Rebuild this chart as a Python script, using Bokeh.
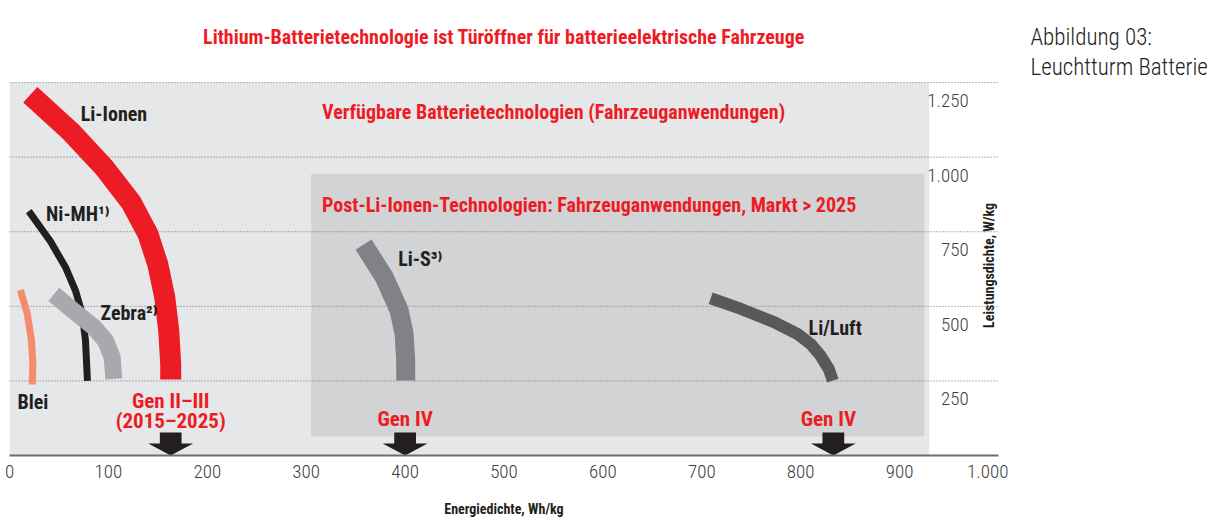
from bokeh.plotting import figure
from bokeh.layouts import row
from bokeh.models import Range1d, FixedTicker
from bokeh.core.properties import value
from bokeh.embed import file_html
from bokeh.resources import INLINE

COND = "'Roboto Condensed', 'Open Sans Condensed', sans-serif"
COND_LIGHT = "'Roboto Condensed Light', 'Roboto Condensed', sans-serif"

# ---- data ----
x_ticks = [0, 100, 200, 300, 400, 500, 600, 700, 800, 900, 1000]
x_tick_labels = ["0", "100", "200", "300", "400", "500", "600", "700", "800", "900", "1.000"]
y_ticks = [250, 500, 750, 1000, 1250]
y_tick_labels = ["250", "500", "750", "1.000", "1.250"]

li_ionen_x = [21, 62, 96, 123, 140, 150, 157, 161, 163, 163]
li_ionen_y = [1209, 1085, 964, 848, 742, 640, 530, 419, 306, 255]
nimh_x = [19.5, 41.5, 56.6, 66.7, 73.5, 76.8, 78.8]
nimh_y = [819, 717, 631, 553, 475, 386, 250]
zebra_x = [44.8, 68.4, 85.2, 97.1, 103.8, 105.5]
zebra_y = [540, 475, 430, 385, 329, 257]
blei_x = [11, 18, 22.2, 23.6, 23]
blei_y = [555, 475, 385, 307, 238]
lis_x = [358, 379, 394, 399, 400.6, 400.6]
lis_y = [707, 597, 486, 408, 318, 251]
liluft_x = [709, 739, 773, 796.5, 810, 820, 828.4, 832.5]
liluft_y = [527, 492, 447, 408, 374, 335, 290, 251]

gen_x = [163, 400, 833]          # arrow positions (Wh/kg)

curve_names = ["Li-Ionen", "Ni-MH¹⁾", "Zebra²⁾", "Blei", "Li-S³⁾", "Li/Luft"]
curve_label_x = [72, 37, 92, 8, 393, 808]
curve_label_y = [1146, 808, 476, 178, 660, 426]

gen_labels = ["Gen II–III", "(2015–2025)", "Gen IV", "Gen IV"]
gen_label_x = [163, 163, 400, 828]
gen_label_y = [184, 117, 124, 124]

caption_lines = ["Abbildung 03:", "Leuchtturm Batterie"]

RED = "#ed1c24"
DARK = "#231f20"

p = figure(width=1008, height=520, output_backend="svg", toolbar_location=None,
           x_range=Range1d(0, 1000), y_range=Range1d(0, 1525),
           min_border_left=9, min_border_right=10, min_border_top=0,
           min_border_bottom=65, y_axis_location=None, title=None)
p.outline_line_color = None
p.background_fill_color = "white"
p.border_fill_color = "white"
p.grid.visible = False

# x axis
ax = p.xaxis[0]
ax.ticker = FixedTicker(ticks=x_ticks)
ax.major_label_overrides = {t: l for t, l in zip(x_ticks, x_tick_labels)}
ax.axis_line_color = "#6d6e71"
ax.axis_line_width = 2
ax.major_tick_line_color = None
ax.minor_tick_line_color = None
ax.major_label_text_font = COND_LIGHT
ax.major_label_text_font_size = "19px"
ax.major_label_text_color = "#414042"
ax.major_label_standoff = 3
ax.axis_label = "Energiedichte, Wh/kg"
ax.axis_label_text_font = COND
ax.axis_label_text_font_style = "bold"
ax.axis_label_text_font_size = "14px"
ax.axis_label_text_color = DARK
ax.axis_label_standoff = 20

# backgrounds
p.quad(left=[0], right=[930], bottom=[0], top=[1250], color="#e6e7e8", line_color=None)
p.quad(left=[305], right=[925], bottom=[64], top=[944], color="#d1d3d4", line_color=None)

# dotted gridlines
p.segment(x0=[0] * len(y_ticks), x1=[1000] * len(y_ticks), y0=y_ticks, y1=y_ticks,
          line_color="#6d6e71", line_width=1, line_dash="1 2")

# y tick labels
p.text(x=[970] * len(y_ticks), y=y_ticks, text=y_tick_labels, y_offset=18,
       text_font=value(COND_LIGHT), text_font_size="19px", text_color="#414042",
       text_align="right", text_baseline="middle")
p.text(x=[990], y=[637], text=["Leistungsdichte, W/kg"], angle=1.5708,
       text_font=value(COND), text_font_style="bold", text_font_size="14px",
       text_color=DARK, text_align="center", text_baseline="middle")

# curves
def curve(xs, ys, color, w):
    p.line(xs, ys, line_color=color, line_width=w, line_cap="butt", line_join="round")

curve(blei_x, blei_y, "#f58a6e", 7)
curve(nimh_x, nimh_y, DARK, 7)
curve(zebra_x, zebra_y, "#a7a9ac", 17)
curve(li_ionen_x, li_ionen_y, RED, 21)
curve(lis_x, lis_y, "#808285", 19)
curve(liluft_x, liluft_y, "#58595b", 12)

# arrows
xs, ys = [], []
for g in gen_x:
    xs.append([g - 11, g + 11, g + 11, g + 22.7, g, g - 22.7, g - 11])
    ys.append([77, 77, 40, 40, 0, 40, 40])
p.patches(xs, ys, color=DARK, line_color=None)

# texts
p.text(x=[500], y=[1401], text=["Lithium-Batterietechnologie ist Türöffner für batterieelektrische Fahrzeuge"],
       text_font=value(COND), text_font_style="bold", text_font_size="20px",
       text_color=RED, text_align="center", text_baseline="middle")
p.text(x=[316], y=[1150], text=["Verfügbare Batterietechnologien (Fahrzeuganwendungen)"],
       text_font=value(COND), text_font_style="bold", text_font_size="20px",
       text_color=RED, text_align="left", text_baseline="middle")
p.text(x=[316], y=[838], text=["Post-Li-Ionen-Technologien: Fahrzeuganwendungen, Markt > 2025"],
       text_font=value(COND), text_font_style="bold", text_font_size="20px",
       text_color=RED, text_align="left", text_baseline="middle")
p.text(x=curve_label_x, y=curve_label_y, text=curve_names,
       text_font=value(COND), text_font_style="bold", text_font_size="20px",
       text_color=DARK, text_align="left", text_baseline="middle")
p.text(x=gen_label_x, y=gen_label_y, text=gen_labels,
       text_font=value(COND), text_font_style="bold", text_font_size="21px",
       text_color=RED, text_align="center", text_baseline="middle")

# caption panel on the right
p2 = figure(width=200, height=520, output_backend="svg", toolbar_location=None,
            x_range=Range1d(0, 200), y_range=Range1d(0, 520), min_border=0,
            x_axis_location=None, y_axis_location=None, title=None)
p2.outline_line_color = None
p2.grid.visible = False
p2.text(x=[22, 22], y=[478, 444], text=caption_lines,
        text_font=value(COND_LIGHT), text_font_size="23px", text_color=DARK,
        text_align="left", text_baseline="alphabetic")

layout = row(p, p2, spacing=0)
open("out.html", "w").write(file_html(layout, INLINE))
